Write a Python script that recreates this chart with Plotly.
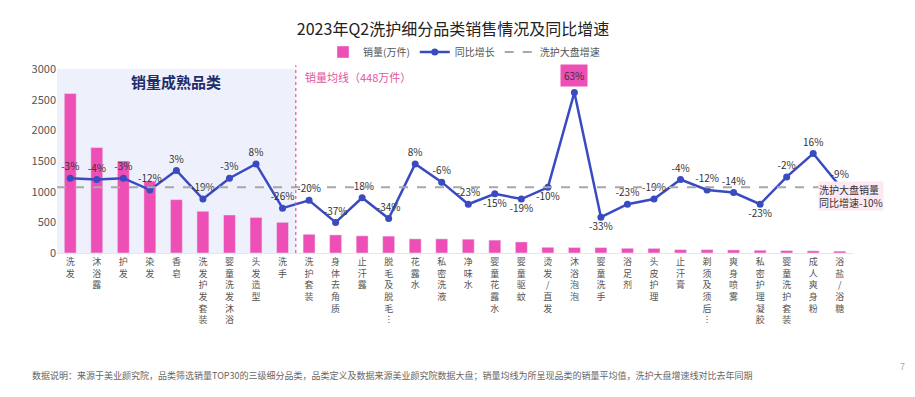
import plotly.graph_objects as go

categories = ["洗发", "沐浴露", "护发", "染发", "香皂", "洗发护发套装", "婴童洗发沐浴", "头发造型", "洗手",
              "洗护套装", "身体去角质", "止汗露", "脱毛及脱毛︙", "花露水", "私密洗液", "净味水", "婴童花露水",
              "婴童驱蚊", "烫发/直发", "沐浴泡泡", "婴童洗手", "浴足剂", "头皮护理", "止汗膏", "剃须及须后︙",
              "爽身喷雾", "私密护理凝胶", "婴童洗护套装", "成人爽身粉", "浴盐/浴糖"]
sales = [2600, 1720, 1500, 1170, 870, 680, 620, 580, 500,
         305, 295, 280, 275, 230, 230, 225, 210, 180, 93, 90, 88,
         77, 75, 55, 55, 50, 45, 40, 35, 30]
yoy = [-3, -4, -3, -12, 3, -19, -3, 8, -26, -20, -37, -18, -34, 8, -6, -23, -15, -19, -10, 63,
       -33, -23, -19, -4, -12, -14, -23, -2, 16, -9]
below_idx = [16, 17, 18, 20, 26]
market_yoy = -10
mature_count = 9
avg_sales = 448

x = list(range(len(categories)))
ticktext = ["<br>".join(list(c)) for c in categories]
peak = yoy.index(max(yoy))
labels = [f"{v}%" if i != peak else "" for i, v in enumerate(yoy)]
positions = ["bottom center" if i in below_idx else "top center" for i in range(len(yoy))]

FONT = "Noto Sans CJK SC"
W, H = 915, 397
L, R, T, B = 57, 62, 69, 144
PW, PH = W - L - R, H - T - B


def px_x(px):
    return (px - L) / PW


def px_y(py):
    return (H - B - py) / PH


fig = go.Figure()
fig.add_trace(go.Bar(x=x, y=sales, name="销量(万件)", marker_color="#EE4FB6", width=0.45))
fig.add_trace(go.Scatter(x=x, y=yoy, name="同比增长", yaxis="y2", mode="lines+markers+text",
                         line=dict(color="#3A4BC2", width=2.5), marker=dict(size=7, color="#3A4BC2"),
                         text=labels, textposition=positions,
                         textfont=dict(size=10, color="#333333", family=FONT), cliponaxis=False))
fig.add_trace(go.Scatter(x=[-0.5, 29.5], y=[market_yoy, market_yoy], name="洗护大盘增速", yaxis="y2",
                         mode="lines", line=dict(color="#A8A8A8", width=2, dash="dash"), hoverinfo="skip"))

fig.add_shape(type="rect", xref="x", yref="paper", x0=-0.5, x1=mature_count - 0.5, y0=0, y1=1,
              fillcolor="#EEF0FC", line_width=0, layer="below")
fig.add_shape(type="line", xref="x", yref="paper", x0=mature_count - 0.5, x1=mature_count - 0.5,
              y0=0, y1=1.02, line=dict(color="#E0559F", width=1.2, dash="dot"))

fig.add_annotation(x=(mature_count - 1) / 2, y=px_y(81), xref="x", yref="paper", text="<b>销量成熟品类</b>",
                   showarrow=False, yanchor="middle", font=dict(size=15, color="#1F2D6B", family=FONT))
fig.add_annotation(x=px_x(303), y=px_y(77), xref="paper", yref="paper", text=f"销量均线（{avg_sales}万件）",
                   showarrow=False, xanchor="left", yanchor="middle",
                   font=dict(size=11, color="#E0559F", family=FONT))
fig.add_annotation(x=peak, y=yoy[peak], xref="x", yref="y2", text=f"{yoy[peak]}%", showarrow=False, yshift=17,
                   bgcolor="#EE4FB6", borderpad=3, font=dict(size=10, color="#333333", family=FONT))
fig.add_annotation(x=px_x(818), y=px_y(196), xref="paper", yref="paper",
                   text=f"洗护大盘销量<br>同比增速{market_yoy}%",
                   showarrow=False, align="left", xanchor="left", yanchor="middle", bgcolor="#FCE9F4",
                   borderpad=0, font=dict(size=10, color="#333333", family=FONT))
fig.add_annotation(x=px_x(30), y=px_y(375), xref="paper", yref="paper",
                   xanchor="left", yanchor="middle", showarrow=False,
                   text="数据说明：来源于美业颜究院，品类筛选销量TOP30的三级细分品类，品类定义及数据来源美业颜究院数据大盘；销量均线为所呈现品类的销量平均值，洗护大盘增速线对比去年同期",
                   font=dict(size=9, color="#666666", family=FONT))
fig.add_annotation(x=px_x(907), y=px_y(375), xref="paper", yref="paper",
                   showarrow=False, text="7", font=dict(size=9, color="#AAAAAA", family=FONT))

fig.update_layout(
    width=W, height=H,
    margin=dict(l=L, r=R, t=T, b=B, autoexpand=False),
    paper_bgcolor="white", plot_bgcolor="white",
    font=dict(family=FONT, color="#555555"),
    title=dict(text="2023年Q2洗护细分品类销售情况及同比增速", x=453 / W, xanchor="center", y=1 - 29 / H,
               yanchor="middle", font=dict(size=16, color="#222222", family=FONT)),
    legend=dict(orientation="h", x=px_x(605), xanchor="right", y=px_y(52), yanchor="middle",
                font=dict(size=10, color="#555555"), itemwidth=30, bgcolor="rgba(0,0,0,0)"),
    xaxis=dict(tickmode="array", tickvals=x, ticktext=ticktext, range=[-0.5, 29.5], tickangle=0,
               showgrid=False, showline=True, linecolor="#E6E6E6", ticks="",
               tickfont=dict(size=9, color="#555555")),
    yaxis=dict(range=[0, 3000], dtick=500, showgrid=False, zeroline=False, ticks="",
               tickfont=dict(size=11, color="#555555")),
    yaxis2=dict(range=[-60.5, 81], overlaying="y", side="right", visible=False),
)

fig.write_html("out.html", config={"displayModeBar": False},
               post_script="document.body.style.margin='0';")
